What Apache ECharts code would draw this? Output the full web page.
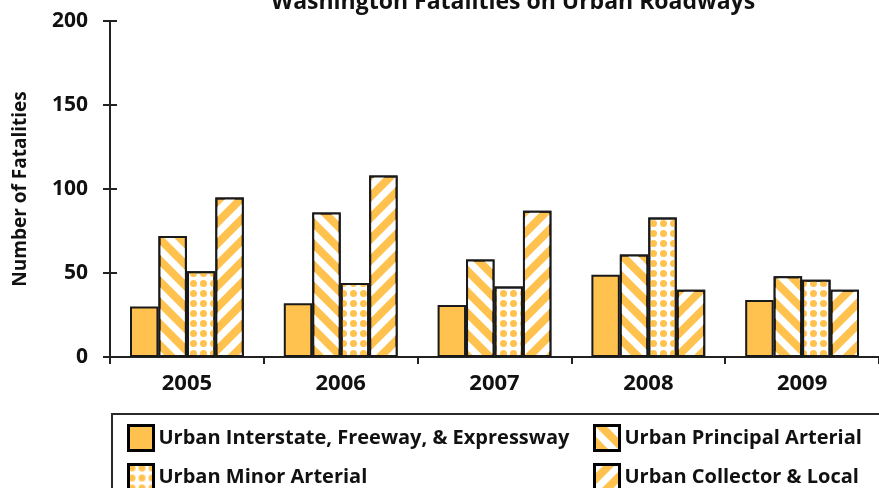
<!DOCTYPE html>
<html>
<head>
<meta charset="utf-8">
<script src="https://cdn.jsdelivr.net/npm/echarts@6/dist/echarts.min.js"></script>
<style>html,body{margin:0;padding:0;background:#fff}#c{width:879px;height:488px}</style>
</head>
<body>
<div id="c"></div>
<script>
const years = ['2005', '2006', '2007', '2008', '2009'];
const interstate = [30, 32, 31, 49, 34];
const principal = [72, 86, 58, 61, 48];
const minor = [51, 44, 42, 83, 46];
const collector = [95, 108, 87, 40, 40];
const seriesNames = ['Urban Interstate, Freeway, & Expressway', 'Urban Principal Arterial', 'Urban Minor Arterial', 'Urban Collector & Local'];
const yTicks = [0, 50, 100, 150, 200];

const FONT = '"Open Sans"';
const ORANGE = '#FFC24F';
const chart = echarts.init(document.getElementById('c'), null, {renderer: 'canvas'});
const border = {borderColor: '#1a1a1a', borderWidth: 2};
const stripe = (rot) => ({symbol: 'rect', symbolSize: 1, dashArrayX: [1, 0], dashArrayY: [7, 8], rotation: rot, color: '#ffffff'});
const dots = {symbol: 'circle', symbolSize: 1, dashArrayX: [7, 3], dashArrayY: [7, 3], color: ORANGE};
const legendCommon = {
  orient: 'vertical', height: 140,
  itemWidth: 25, itemHeight: 25, itemGap: 11,
  icon: 'rect',
  itemStyle: {borderColor: '#000', borderWidth: 3},
  textStyle: {fontFamily: FONT, fontWeight: 'bold', fontSize: 20, color: '#111'}
};

chart.setOption({
  animation: false,
  title: {
    text: 'Washington Fatalities on Urban Roadways',
    left: 508, textAlign: 'center', top: -14,
    textStyle: {fontFamily: FONT, fontWeight: 'bold', fontSize: 23, color: '#111'}
  },
  grid: {left: 110, right: -2, top: 21, bottom: 131, containLabel: false},
  legend: [
    Object.assign({}, legendCommon, {
      left: 112, top: 414,
      padding: [10, 360, 14, 15],
      borderColor: '#2a2a2a', borderWidth: 2,
      data: [seriesNames[0], seriesNames[2]]
    }),
    Object.assign({}, legendCommon, {
      left: 593, top: 424, padding: 0,
      data: [seriesNames[1], seriesNames[3]]
    })
  ],
  xAxis: {
    type: 'category', data: years,
    axisLine: {lineStyle: {color: '#222', width: 2}},
    axisTick: {show: true, length: 7, lineStyle: {color: '#222', width: 2}},
    axisLabel: {fontFamily: FONT, fontWeight: 'bold', fontSize: 22, color: '#111', margin: 16}
  },
  yAxis: [{
    type: 'value', min: 0, max: 200, interval: 50,
    name: 'Number of Fatalities', nameLocation: 'middle', nameGap: 80, nameRotate: 90,
    nameTextStyle: {fontFamily: FONT, fontWeight: 'bold', fontSize: 19, color: '#111'},
    axisLine: {show: true, lineStyle: {color: '#222', width: 2}},
    axisTick: {show: true, length: 7, lineStyle: {color: '#222', width: 2}},
    axisLabel: {fontFamily: FONT, fontWeight: 'bold', fontSize: 21, color: '#111', margin: 22,
      formatter: v => yTicks.includes(v) ? String(v) : ''},
    splitLine: {show: false}
  }, {
    type: 'value', min: 0, max: 200, interval: 50, position: 'left',
    axisLine: {show: false},
    axisTick: {show: true, inside: true, length: 7, lineStyle: {color: '#222', width: 2}},
    axisLabel: {show: false}, splitLine: {show: false}
  }],
  series: [
    {name: seriesNames[0], type: 'bar', data: interstate, barGap: '0%', barCategoryGap: '26%',
      itemStyle: Object.assign({color: ORANGE}, border)},
    {name: seriesNames[1], type: 'bar', data: principal,
      itemStyle: Object.assign({color: ORANGE, decal: stripe(Math.PI / 4)}, border)},
    {name: seriesNames[2], type: 'bar', data: minor,
      itemStyle: Object.assign({color: '#ffffff', decal: dots}, border)},
    {name: seriesNames[3], type: 'bar', data: collector,
      itemStyle: Object.assign({color: ORANGE, decal: stripe(-Math.PI / 4)}, border)}
  ]
});
</script>
</body>
</html>
